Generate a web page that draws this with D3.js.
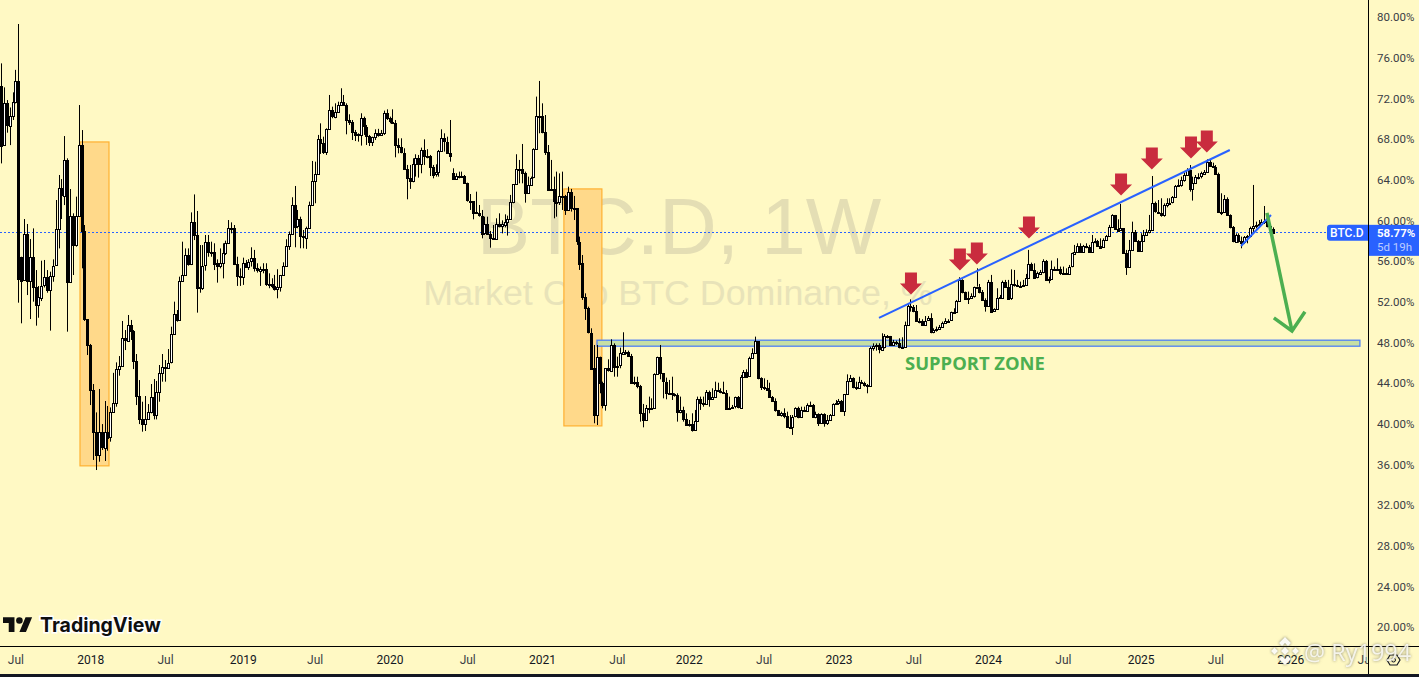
<!DOCTYPE html>
<html>
<head>
<meta charset="utf-8">
<title>BTC.D, 1W</title>
<script src="https://cdn.jsdelivr.net/npm/d3@7"></script>
<style>
  html, body { margin: 0; padding: 0; background: #fff9c4; overflow: hidden; }
  svg { display: block; }
  text { font-family: Roboto, "Liberation Sans", sans-serif; }
</style>
</head>
<body>
<div id="chart"></div>
<script>
// weekly BTC dominance candles (percent)
const closes = [
  67.34,71.5,69.31,70.29,71.67,73.7,54.19,54.1,58.62,53.96,
  56.36,53.41,51.67,52.42,53.57,54.39,53.15,54.56,55.54,59.11,
  63.15,62.42,65.93,53.96,60.42,57.57,60.42,67.41,58.98,50.29,
  47.74,43.31,39.15,36.85,39.15,37.64,39.21,38.62,41.11,42,
  45.34,45.67,48.39,48.16,49.7,49.11,46.19,42.72,40.46,39.93,
  40.46,41.11,42.59,40.78,43.08,44.95,45.54,45.5,46,48.79,
  50.75,50.2,54.06,54.62,56.59,55.7,59.8,58.56,53.31,53.41,
  55.54,57.83,56.85,56.92,55.77,55.44,55.77,56.75,57.74,59.21,
  59.28,55.7,54.53,54.46,55.84,55.45,55.94,56.27,55.28,55.05,
  55.22,55.22,53.74,53.74,53.55,53.22,53.42,54.63,55.55,57.48,
  58.66,61.51,59.38,60.1,58.46,58.33,59.28,61.51,63.87,64.53,
  67.97,67.58,66.66,68.95,70.82,70.2,70.69,71.35,71.67,71.35,
  69.87,69.71,68.72,68.46,68.4,70.04,69.22,68.3,67.68,68.17,
  68.56,68.4,68.56,70.53,70.04,69.71,69.61,67.41,67.18,66.66,
  65.05,64.13,63.81,65.51,66.1,65.51,66.92,66.36,66.36,65.28,
  64.53,64.72,66.82,68.07,67.74,66.66,66.33,64.04,64.36,64.36,
  64.36,63.64,61.94,61.94,60.79,60.69,60.46,58.72,59.61,58.66,
  58.23,58.17,59.61,59.45,59.61,59.87,60.13,61.77,63.54,65.05,
  65.05,64.69,62.72,63.48,64.2,66.99,70.27,70.27,68.72,66.76,
  63.05,63.05,61.84,61.77,62.4,62.4,61.02,62.76,61.18,61.18,
  57.9,55.77,52.43,51.35,48.95,45.45,40.85,46.53,43.97,41.77,
  45.45,45.22,47.74,45.61,45.71,46.92,47.08,47.08,46.69,44.04,
  44.13,43.71,41.02,40.3,41.51,41.51,41.51,44.85,46.53,44.95,
  44.13,43.05,42.99,42.92,42.82,41.18,41.34,40.43,39.87,39.94,
  39.38,40.3,42.43,42,42,43.15,42.5,42.66,43.31,43.25,
  43.15,43.05,41.51,41.58,41.67,42.59,41.61,44.62,45.12,44.62,
  46.43,46.92,48.13,44.46,43.58,43.48,43.31,42.66,42.26,41.35,
  40.85,41.02,40.76,39.71,39.71,40.69,41.51,40.63,41.35,41.28,
  41.84,41.84,40.69,40.95,40.04,40.95,40.04,40.36,40.85,41.94,
  42,42.23,41.28,42.92,44.2,44.46,43.58,43.48,44.07,43.97,
  43.81,43.71,47.48,47.64,47.74,47.32,47.58,48.66,48.62,47.74,
  48,47.91,47.51,47.51,49.71,51.58,51.51,51.09,50.14,50.14,
  49.71,50.14,50.37,48.99,49.22,49.32,49.55,49.94,50.1,50.14,
  50.96,51.02,52.1,54.14,52.92,52.27,52.33,52.56,53.41,53.48,
  52.99,52.17,51.61,53.97,51.02,51.25,52.33,52.43,53.97,53.48,
  52.33,53.74,53.64,53.54,53.58,53.64,54.3,55.71,55.12,54.37,
  54.79,54.96,56.04,54.14,54.23,55.18,55.18,55.22,54.79,54.79,
  54.79,55.45,56.76,56.92,57.51,56.92,57.48,57.41,56.92,57.91,
  57.97,57.51,57.35,58.07,58.5,59.38,60.53,59.15,58.99,59.22,
  56.76,55.38,57.09,58.89,58,57.02,58,58.56,58.89,59.05,
  61.67,60.85,60.75,60.52,61.51,61.67,61.74,62.26,63.38,63.48,
  63.97,64.46,64.95,63.08,63.64,64.23,64.3,64.63,64.79,65.77,
  65.38,65.28,64.56,60.85,60.85,62.1,60.52,59.31,57.9,58.56,
  57.97,57.8,58.33,58.46,59.21,59.44,59.54,59.64,59.87,59.93,
  59.44,59.12,58.77
];
const highs = [
  75.44,73.08,71.83,71.1,72.59,74.8,79.31,56.42,60.13,59.64,
  58.16,59.21,55.11,53.54,56.03,56.1,55.11,54.95,56.16,62,
  64.46,64.06,68.29,66.1,63.08,60.69,62.33,71.34,68.88,59.54,
  50.29,47.84,43.9,41.11,43.41,39.96,42.23,41.74,41.6,45,
  46.03,46.65,50.1,49.21,50.69,50.2,49.21,46.85,44.29,42.16,
  42.72,41.93,43.9,44.39,44.2,45.77,46.85,46.26,47.34,49.54,
  52,51.18,54.46,57.9,57.24,57.24,60.78,62.55,60.92,57.57,
  57.57,58.56,58.56,57.9,57.74,56.16,57.24,57.74,58,60.03,
  59.8,59.54,56.42,55.28,56.33,56.1,56.18,57.35,57.09,55.78,
  55.45,55.78,55.78,54.79,54.3,54.63,55.19,54.63,55.87,58.14,
  58.9,62.27,63.38,61.02,60.36,59.05,59.38,61.84,65.84,65.77,
  68.4,69.54,68.23,69.05,72.33,71.18,71.51,71.67,72.99,72.33,
  71.51,70.43,69.87,68.89,68.56,70.53,70.2,69.38,68.4,68.23,
  68.95,69,68.89,70.79,70.92,70.2,70.92,69.87,68.07,68.07,
  67.09,65.45,65.45,66.1,66.5,66.43,67.15,67.97,67,66.43,
  65.45,65.51,66.92,68.95,68.56,68.23,69.87,65.12,64.63,64.79,
  64.79,64.46,63.71,62.59,61.77,62.82,61.51,61.02,60.36,60.36,
  58.95,59.54,60.2,60.69,60,60.59,60.46,62.5,63.54,66.5,
  65.94,67.51,64.79,64.3,64.3,67.09,72.17,73.71,71.51,70.36,
  67.41,65.94,64.3,64.79,64.62,64.79,62.5,63.31,63.09,62.4,
  61.02,58.4,56.59,52.82,51.51,49.38,47.74,47.74,46.59,44.13,
  45.45,46.33,48.3,47.9,46.59,47.48,48.99,47.25,47.18,46.86,
  44.62,44.62,43.81,41.94,41.84,42.66,42.49,44.95,46.59,47.74,
  44.62,44.53,44.3,44.62,42.99,42.99,42.66,41.67,41.02,40.36,
  41.02,41.35,42.66,42.66,42.66,43.31,43.25,43.48,44.13,44.03,
  43.48,44.13,43.31,42.66,41.84,42.66,42.72,44.79,45.28,45.35,
  46.59,47.41,48.56,48.13,44.56,44.46,44.3,44.03,42.72,42.49,
  41.35,41.18,41.51,41.18,40.85,40.85,41.61,41.67,41.67,41.67,
  42,42.17,41.94,41.18,41.02,41.02,41.02,40.85,40.95,42,
  42.33,42.43,42.33,42.92,44.85,44.79,44.56,44.13,44.62,44.3,
  44.13,43.9,47.58,47.9,47.9,47.91,48.89,48.82,48.72,48.63,
  48.24,48.17,48.4,48.5,50.04,51.84,52.23,51.67,51.67,50.37,
  50.27,50.59,50.59,50.86,49.38,49.55,49.71,50.04,50.37,50.27,
  51.02,51.35,52.17,54.4,54.2,52.99,52.99,52.82,53.48,55.28,
  53.74,53.15,52.33,54.14,54.63,51.35,53.32,52.66,54.07,54.14,
  54.14,55.18,55.12,54.14,53.97,54.14,54.73,57.09,55.84,55.77,
  54.96,55.12,56.17,56.1,54.46,56.04,55.45,56.27,55.45,55.45,
  55.28,55.61,56.82,57.58,57.74,57.74,57.58,57.74,57.58,58.56,
  58.23,58.07,58.23,58.23,58.56,59.55,60.6,60.53,60.1,61.61,
  59.22,57.09,58.07,59.87,59.05,58.07,58.73,59.05,59.12,60.53,
  64.36,61.84,62,62.17,61.67,62.17,62.17,62.39,63.48,64.03,
  64.3,64.69,65.12,65.44,64.3,64.46,64.63,64.79,64.95,66,
  66.03,65.67,65.44,64.69,62.66,62.49,62.26,60.59,59.44,58.72,
  58.72,58.4,58.46,58.56,59.38,63.48,59.87,60.03,60.1,61.41,
  60.69,59.64,59.31
];
const lows = [
  65.6,69.2,68.62,67.4,69.87,71.5,51.9,49.87,54.2,52.65,
  50.29,52,49.64,50.42,52.06,53.4,52.88,49.15,53.96,55.54,
  57.24,60.13,61.5,49.05,53.96,54.62,57.41,60.36,55.28,50.1,
  46.75,41.83,36.43,35.44,36.26,37.41,36.33,37.34,38.23,41.11,
  41.67,44.72,45.6,47.24,48.16,48.23,45.37,41.83,39.96,39.21,
  39.28,40.36,41.01,40.42,40.42,42.16,44.13,44.13,45.44,45.93,
  48.72,50.03,50.2,53.96,54.56,55.54,55.6,58.06,50.92,52.88,
  53.15,55.05,56.42,56.42,55.11,53.87,55.28,54.29,56.59,57.67,
  58.72,55.6,53.55,53.55,53.65,55.38,55.12,55.45,54.96,54.86,
  53.55,54.79,53.55,53.32,53.32,53.09,52.33,52.99,54.53,55.45,
  57.09,58.66,57.35,59.22,57.25,57.25,57.19,59.22,61.42,61.68,
  64.53,66.53,66.53,66.43,68.89,70.04,70.04,70.59,71.35,71.3,
  68.46,69.38,67.9,67.8,67.74,67.35,68.4,67.41,67.31,67.31,
  67.9,68.23,68.3,68.4,69.87,69.54,69.54,66.2,66.59,66.59,
  64.95,62.07,63.09,63.74,64.3,64.2,64.63,65.45,66.1,64.36,
  64.13,64.3,64.3,66.76,66.76,66.59,65.77,63.97,63.97,64.13,
  64.23,63.58,61.84,61.02,60.1,60.63,60.36,58.23,58.56,58.56,
  57.31,58.07,58.07,59.31,58.72,59.31,58.5,60.1,61.68,63.48,
  63.64,63.64,61.74,62.66,63.48,64.14,66.92,68.56,68.56,66.43,
  63.05,62.99,60.2,60.36,61.51,61.02,60.53,60.95,60.86,60.03,
  57.58,55.12,52.17,50.2,48.88,45.45,40.04,39.87,42.99,41.51,
  41.28,45.12,45.22,44.62,44.62,45.45,46.76,46.76,46.59,43.97,
  43.81,43.48,40.2,39.64,40.3,41.02,41.44,41.51,44.79,44.36,
  42.49,42.4,42.92,42.33,42.66,40.2,41.02,40.2,39.77,39.71,
  39.22,39.38,40.2,41.35,41.67,42,41.67,42.49,42.59,43.15,
  42.99,42.99,41.44,41.35,41.51,41.51,41.51,41.51,44.56,44.56,
  44.62,46.43,46.92,44.36,43.31,43.31,43.25,42.66,42.17,41.18,
  40.76,40.69,40.53,39.64,39.64,38.89,40.63,40.53,40.63,41.18,
  41.18,41.67,40.63,40.53,39.77,39.97,39.7,39.87,40.3,40.76,
  41.84,41.84,41.25,40.76,42.82,44.13,43.48,43.31,43.48,43.9,
  43.64,42.99,43.64,47.18,47.18,46.92,47.35,47.41,48.4,47.68,
  47.74,47.74,47.41,47.41,47.51,49.71,51.02,50.96,50.04,49.87,
  49.64,49.64,50.2,48.89,48.89,49.05,49.22,49.48,49.87,49.94,
  50.1,50.86,50.96,52,52.82,52.17,51.77,52.33,52.4,53.48,
  52.82,52.1,51.02,51.61,50.92,51.02,51.2,52.33,52.33,53.41,
  52.27,52.17,53.48,53.48,53.48,53.48,53.58,54.23,55.02,54.3,
  54.3,54.73,54.79,54.07,53.81,54.23,55.05,55.05,54.63,54.73,
  54.73,54.79,55.38,56.76,56.86,56.82,57.09,57.25,56.86,56.86,
  57.74,57.41,57.25,57.35,57.97,58.46,59.38,59.05,58.89,59.05,
  56.69,54.63,55.38,57.02,57.91,56.92,57.02,57.97,58.46,58.72,
  59.05,60.75,60.62,60.36,60.36,61.28,61.67,61.67,62.26,63.31,
  63.31,63.8,64.39,62.82,61.94,63.57,64.03,64.13,64.62,64.69,
  65.28,65.18,64.46,60.79,60.52,60.85,60.46,59.21,57.84,57.84,
  57.8,57.25,57.67,57.74,58.33,58.72,59.21,59.38,59.54,59.64,
  59.31,58.89,58.74
];
// weeks where the candle did not open on the previous close
const openWeeks = [0, 7, 157];
const openValues = [73.2, 56.42, 64.63];

const priceTicks = [80,76,72,68,64,60,56,52,48,44,40,36,32,28,24,20];
const timeLabels = ["Jul","2018","Jul","2019","Jul","2020","Jul","2021","Jul","2022","Jul","2023","Jul","2024","Jul","2025","Jul","2026","Jul"];
const timeWeeks = [5,31,57,84,109,135,162,188,214,239,265,291,317,343,369,396,422,448,474];

// drawings, as [week, percent]
const orangeBoxes = [[[27.45,67.71],[37.53,35.85]], [[195.6,63.09],[208.8,39.78]]];
const supportZone = [[207.1,48.21],[472.2,47.62]];
const trendLine = [[305.1,50.4],[427,66.92]];
const smallTrend = [[430.9,57.48],[441.3,60.53]];
const greenArrow = [[439.9,60.73],[448.6,49.12]];
const greenBarbs = [[442.3,50.4],[448.6,49.12],[453.1,51]];
const redArrowWeeks = [316.2,333.2,339.1,357.2,389.2,399.9,413.5,419];
const redArrowTips = [52.76,55.12,55.71,58.27,62.5,65.05,66.14,66.73];
const lastPrice = 58.77;

const width = 1419, height = 677, plotRight = 1368, plotBottom = 646;
const BLUE = "#2962ff", GREEN = "#4caf50", RED = "#c92c3e", BG = "#fff9c4";

const svg = d3.select("#chart").append("svg")
  .attr("width", width).attr("height", height)
  .style("background", BG);

const x = d3.scaleLinear().domain([0, closes.length - 1]).range([1, 1273]);
const y = d3.scaleLinear().domain([20, 80]).range([627, 17]);

const candles = closes.map((c, i) => {
  const k = openWeeks.indexOf(i);
  const o = k >= 0 ? openValues[k] : closes[i - 1];
  return { i, o, c, h: highs[i], l: lows[i] };
});

svg.append("defs").append("clipPath").attr("id", "plot")
  .append("rect").attr("width", plotRight).attr("height", plotBottom);
const plot = svg.append("g").attr("clip-path", "url(#plot)");

// big symbol watermark
plot.append("text").attr("x", 679).attr("y", 254).attr("text-anchor", "middle")
  .style("font-family", "'Liberation Sans'").style("font-size", "80px")
  .attr("fill", "#e4deb4").text("BTC.D, 1W");
plot.append("text").attr("x", 678).attr("y", 305).attr("text-anchor", "middle")
  .style("font-family", "'Liberation Sans'").style("font-size", "35.8px")
  .attr("fill", "#e8e3b9").text("Market Cap BTC Dominance, %");

// orange boxes
plot.selectAll(".box").data(orangeBoxes).join("rect").attr("class", "box")
  .attr("x", d => x(d[0][0])).attr("y", d => y(d[0][1]))
  .attr("width", d => x(d[1][0]) - x(d[0][0]))
  .attr("height", d => y(d[1][1]) - y(d[0][1]))
  .attr("fill", "#ffd98a").attr("stroke", "#ffb030").attr("stroke-width", 1.2);

// support zone
plot.append("rect")
  .attr("x", x(supportZone[0][0])).attr("y", y(supportZone[0][1]))
  .attr("width", x(supportZone[1][0]) - x(supportZone[0][0]))
  .attr("height", y(supportZone[1][1]) - y(supportZone[0][1]))
  .attr("fill", "#c6dfa4").attr("stroke", "#4f80f5").attr("stroke-width", 1.3);

// last price line
plot.append("line").attr("x1", 0).attr("x2", plotRight)
  .attr("y1", Math.round(y(lastPrice)) - 0.5).attr("y2", Math.round(y(lastPrice)) - 0.5)
  .attr("stroke", BLUE).attr("stroke-width", 1).attr("stroke-dasharray", "2 2");

// candles
plot.selectAll(".wick").data(candles).join("line").attr("class", "wick")
  .attr("x1", d => Math.round(x(d.i)) + 0.5).attr("x2", d => Math.round(x(d.i)) + 0.5)
  .attr("y1", d => y(d.h)).attr("y2", d => y(d.l))
  .attr("stroke", "#000").attr("stroke-width", 1);
plot.selectAll(".body").data(candles).join("rect").attr("class", "body")
  .attr("x", d => Math.round(x(d.i)) - 0.5).attr("width", 2)
  .attr("y", d => Math.round(y(Math.max(d.o, d.c))) + 0.5)
  .attr("height", d => Math.max(1, Math.round(Math.abs(y(d.o) - y(d.c)))))
  .attr("fill", d => d.c > d.o ? "#fff" : "#000")
  .attr("stroke", "#000").attr("stroke-width", 1);

// trend lines
[trendLine, smallTrend].forEach(t => {
  plot.append("line")
    .attr("x1", x(t[0][0])).attr("y1", y(t[0][1]))
    .attr("x2", x(t[1][0])).attr("y2", y(t[1][1]))
    .attr("stroke", BLUE).attr("stroke-width", 2);
});

// red arrows
const arrow = "M-6,-21.5V-10.5H-11L0,0.5L11,-10.5H6V-21.5Z";
plot.selectAll(".red").data(redArrowWeeks).join("path").attr("class", "red")
  .attr("transform", (d, i) => `translate(${x(d)},${y(redArrowTips[i])})`)
  .attr("d", arrow).attr("fill", RED);

// green arrow
const lineGen = d3.line().x(d => x(d[0])).y(d => y(d[1]));
plot.append("path").attr("d", lineGen(greenArrow)).attr("fill", "none")
  .attr("stroke", GREEN).attr("stroke-width", 3.5);
plot.append("path").attr("d", lineGen(greenBarbs)).attr("fill", "none")
  .attr("stroke", GREEN).attr("stroke-width", 3.5);

plot.append("text").attr("x", 905).attr("y", 370)
  .style("font-family", "'Open Sans'").style("font-size", "18.4px").style("font-weight", 700)
  .attr("fill", GREEN).text("SUPPORT ZONE");

// TradingView logo
const logo = svg.append("g");
logo.append("path").attr("transform", "translate(3,614) scale(0.82)")
  .attr("d", "M14 22H7V11H0V4h14v18zM28 22h-8l7.5-18h8L28 22z").attr("fill", "#0f0f0f");
logo.append("circle").attr("cx", 3 + 20 * 0.82).attr("cy", 614 + 8 * 0.82).attr("r", 3.3).attr("fill", "#0f0f0f");
logo.append("text").attr("x", 40).attr("y", 632)
  .style("font-family", "Inter").style("font-size", "19.5px").style("font-weight", 700)
  .attr("fill", "#0f0f0f").attr("stroke", "#fff").attr("stroke-width", 3)
  .attr("paint-order", "stroke").text("TradingView");

// price axis
const axisR = d3.axisRight(y).tickValues(priceTicks).tickSize(0).tickPadding(9)
  .tickFormat(d => d.toFixed(2) + "%");
const gR = svg.append("g").attr("transform", `translate(${plotRight},0)`).call(axisR);
gR.select(".domain").remove();
gR.selectAll("text").style("font-family", "Roboto").style("font-size", "11.5px").attr("fill", "#3a3d45");

// time axis
const axisB = d3.axisBottom(x).tickValues(timeWeeks).tickSize(0).tickPadding(9)
  .tickFormat((d, i) => timeLabels[i]);
const gB = svg.append("g").attr("transform", `translate(0,${plotBottom})`).call(axisB);
gB.select(".domain").remove();
gB.selectAll("text").style("font-family", "Roboto").style("font-size", "12px")
  .attr("fill", (d, i) => timeLabels[i] === "Jul" ? "#3a3d45" : "#131722");

// cover the axis corner and draw the frame
svg.append("rect").attr("x", plotRight).attr("y", plotBottom).attr("width", width - plotRight).attr("height", 30).attr("fill", BG);
svg.append("line").attr("x1", 0).attr("x2", width).attr("y1", plotBottom + 0.5).attr("y2", plotBottom + 0.5).attr("stroke", "#000");
svg.append("line").attr("x1", plotRight + 0.5).attr("x2", plotRight + 0.5).attr("y1", 0).attr("y2", 674).attr("stroke", "#000");
svg.append("rect").attr("y", 674).attr("width", width).attr("height", 3).attr("fill", "#131722");

// settings icon
svg.append("path").attr("d", "M1387,660l3,-5h7l3,5l-3,5h-7Z").attr("fill", "none").attr("stroke", "#131722").attr("stroke-width", 1.2);
svg.append("circle").attr("cx", 1393.5).attr("cy", 660).attr("r", 2).attr("fill", "none").attr("stroke", "#131722");

// last price labels
const yLast = y(lastPrice);
svg.append("path").attr("d", `M${plotRight},${yLast - 8}H1330a3,3 0 0 0 -3,3V${yLast + 5}a3,3 0 0 0 3,3H${plotRight}Z`).attr("fill", BLUE);
svg.append("rect").attr("x", plotRight + 1).attr("y", yLast - 8).attr("width", width - plotRight - 1).attr("height", 31).attr("fill", BLUE);
svg.append("text").attr("x", 1330).attr("y", yLast + 4.5)
  .style("font-size", "12px").style("font-weight", 500).attr("fill", "#fff").text("BTC.D");
svg.append("text").attr("x", 1377).attr("y", yLast + 4.5)
  .style("font-size", "11.5px").style("font-weight", 700).attr("fill", "#fff").text(lastPrice.toFixed(2) + "%");
svg.append("text").attr("x", 1377).attr("y", yLast + 18.5)
  .style("font-size", "11.5px").attr("fill", "#bcccff").text("5d 19h");

// uploader watermark, bottom right
const mark = svg.append("g").style("filter", "drop-shadow(0 0 1.5px rgba(90,90,80,.75))");
mark.append("path").attr("transform", "translate(1285,651)")
  .attr("d", "M0,-14L6,-8L3,-5L0,-8L-3,-5L-6,-8ZM-14,0L-10.5,-3.5L-7,0L-10.5,3.5ZM14,0L10.5,-3.5L7,0L10.5,3.5ZM0,-4L4,0L0,4L-4,0ZM0,14L6,8L3,5L0,8L-3,5L-6,8Z")
  .attr("fill", "#fbfaf4");
mark.append("text").attr("x", 1304).attr("y", 661)
  .style("font-family", "'Open Sans'").style("font-size", "23.5px")
  .attr("fill", "#fbfaf4").attr("fill-opacity", 0.9).text("@ Ry1994");
</script>
</body>
</html>
